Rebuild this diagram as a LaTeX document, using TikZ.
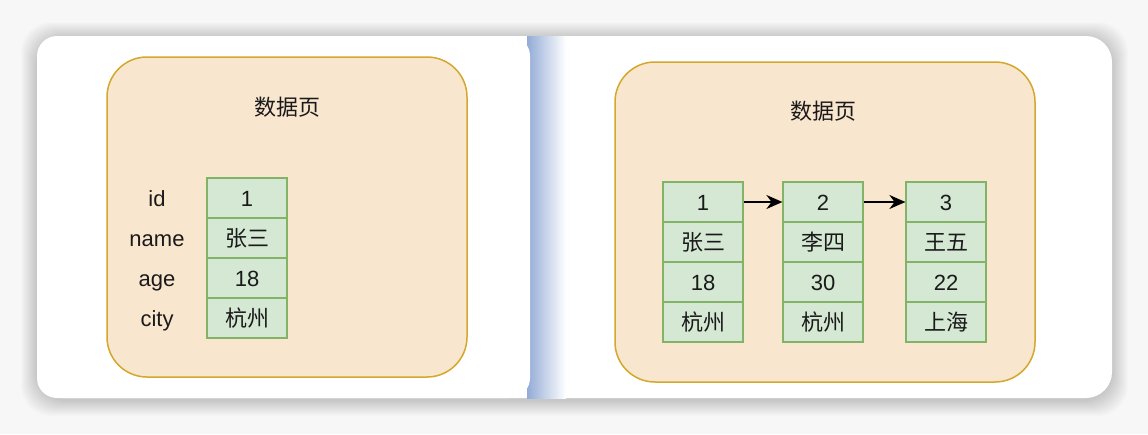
\documentclass[tikz,border=0pt]{standalone}
\usepackage{fontspec}
\setmainfont{Liberation Sans}
\newfontfamily\cjk{Noto Sans CJK SC}
\usetikzlibrary{positioning, arrows.meta}

\definecolor{bggray}{HTML}{F7F7F7}
\definecolor{bandblue}{HTML}{93ABD6}
\definecolor{pagefill}{HTML}{F9E6CF}
\definecolor{pageline}{HTML}{D4A82C}
\definecolor{cellfill}{HTML}{D5E8D4}
\definecolor{cellline}{HTML}{82B366}
\definecolor{textcol}{HTML}{1A1A1A}

\begin{document}
\begin{tikzpicture} [x = 1pt, y = -1pt, node distance = 40pt, on grid,
    every node/.style = {font = \fontsize{22}{26}\selectfont, text = textcol,
        text height = 16pt, text depth = 0pt},
    cell/.style = {draw = cellline, fill = cellfill, line width = 1.2pt,
        minimum width = 80pt, minimum height = 40pt, inner sep = 0pt},
    pagebox/.style = {draw = pageline, fill = pagefill, line width = 1.5pt,
        rounded corners = 40pt, minimum height = 320pt, inner sep = 0pt}]
\useasboundingbox (0,0) rectangle (1148,434);
\fill [bggray] (0,0) rectangle (1148,434);
\foreach \i in {1,...,16}
    \fill [black, opacity = 0.01, rounded corners = 30pt]
        (37-\i,36-\i+2) rectangle (1112+\i,398+\i+2);
\fill [white, rounded corners = 26pt] (37,36) rectangle (1112,398);
\shade [left color = bandblue, right color = white] (527,36) rectangle (566,398);
\fill [white, rounded corners = 20pt] (37,36) rectangle (530,398);

% one row per page
\node [pagebox, minimum width = 360pt] (lpage) at (287,217) {};
\node (ltitle) at (287,107) {\cjk 数据页};
\node [cell] (l1) at (247,198) {1};
\node [cell, below = of l1] (l2) {\cjk 张三};
\node [cell, below = of l2] (l3) {18};
\node [cell, below = of l3] (l4) {\cjk 杭州};
\node (lid) [left = 90pt of l1] {id};
\node (lname) [left = 90pt of l2] {name};
\node (lage) [left = 90pt of l3] {age};
\node (lcity) [left = 90pt of l4] {city};

% rows linked in the page
\node [pagebox, minimum width = 420pt] (rpage) at (825,222) {};
\node (rtitle) at (823,111) {\cjk 数据页};
\node [cell] (a1) at (703,202) {1};
\node [cell, below = of a1] (a2) {\cjk 张三};
\node [cell, below = of a2] (a3) {18};
\node [cell, below = of a3] (a4) {\cjk 杭州};
\node [cell] (b1) at (823,202) {2};
\node [cell, below = of b1] (b2) {\cjk 李四};
\node [cell, below = of b2] (b3) {30};
\node [cell, below = of b3] (b4) {\cjk 杭州};
\node [cell] (c1) at (946,202) {3};
\node [cell, below = of c1] (c2) {\cjk 王五};
\node [cell, below = of c2] (c3) {22};
\node [cell, below = of c3] (c4) {\cjk 上海};
\path [-{Stealth[length = 16pt, width = 14pt]}, line width = 2pt]
    (a1) edge (b1)
    (b1) edge (c1);
\end{tikzpicture}
\end{document}
